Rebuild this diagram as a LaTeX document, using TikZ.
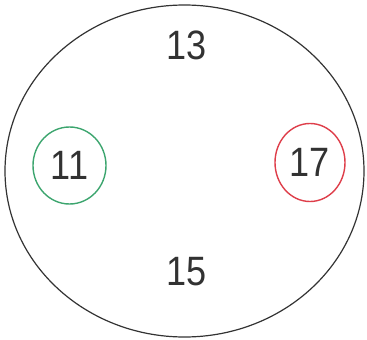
\documentclass[tikz,border=0pt]{standalone}
\usepackage{fontspec}
\setmainfont{Liberation Sans}
\usetikzlibrary{shapes.geometric}
\definecolor{ringgreen}{RGB}{60,165,110}
\definecolor{ringred}{RGB}{222,62,74}
\definecolor{numgray}{RGB}{50,50,50}
\begin{document}
\begin{tikzpicture}[x=1pt,y=-1pt]
\tikzset{num/.style={text=numgray,font=\fontsize{41}{41}\selectfont,inner sep=0pt,xscale=0.88},
ring/.style={ellipse,draw,line width=1.4pt,inner sep=0pt}}
\useasboundingbox (0,0) rectangle (367,340);
\node[ellipse,draw=black!80,line width=1.2pt,minimum width=359pt,minimum height=332pt] (outer) at (184.5,171) {};
\node[num] (top) at (187,45) {13};
\node[num] (bottom) at (187,272) {15};
\node[ring,draw=ringgreen,minimum width=73pt,minimum height=77pt] (left) at (69.5,165.5) {};
\node[num] at (left.center) (l) {11};
\node[ring,draw=ringred,minimum width=70pt,minimum height=78pt] (right) at (310,162.5) {};
\node[num] at (right.center) (r) {17};
\end{tikzpicture}
\end{document}
